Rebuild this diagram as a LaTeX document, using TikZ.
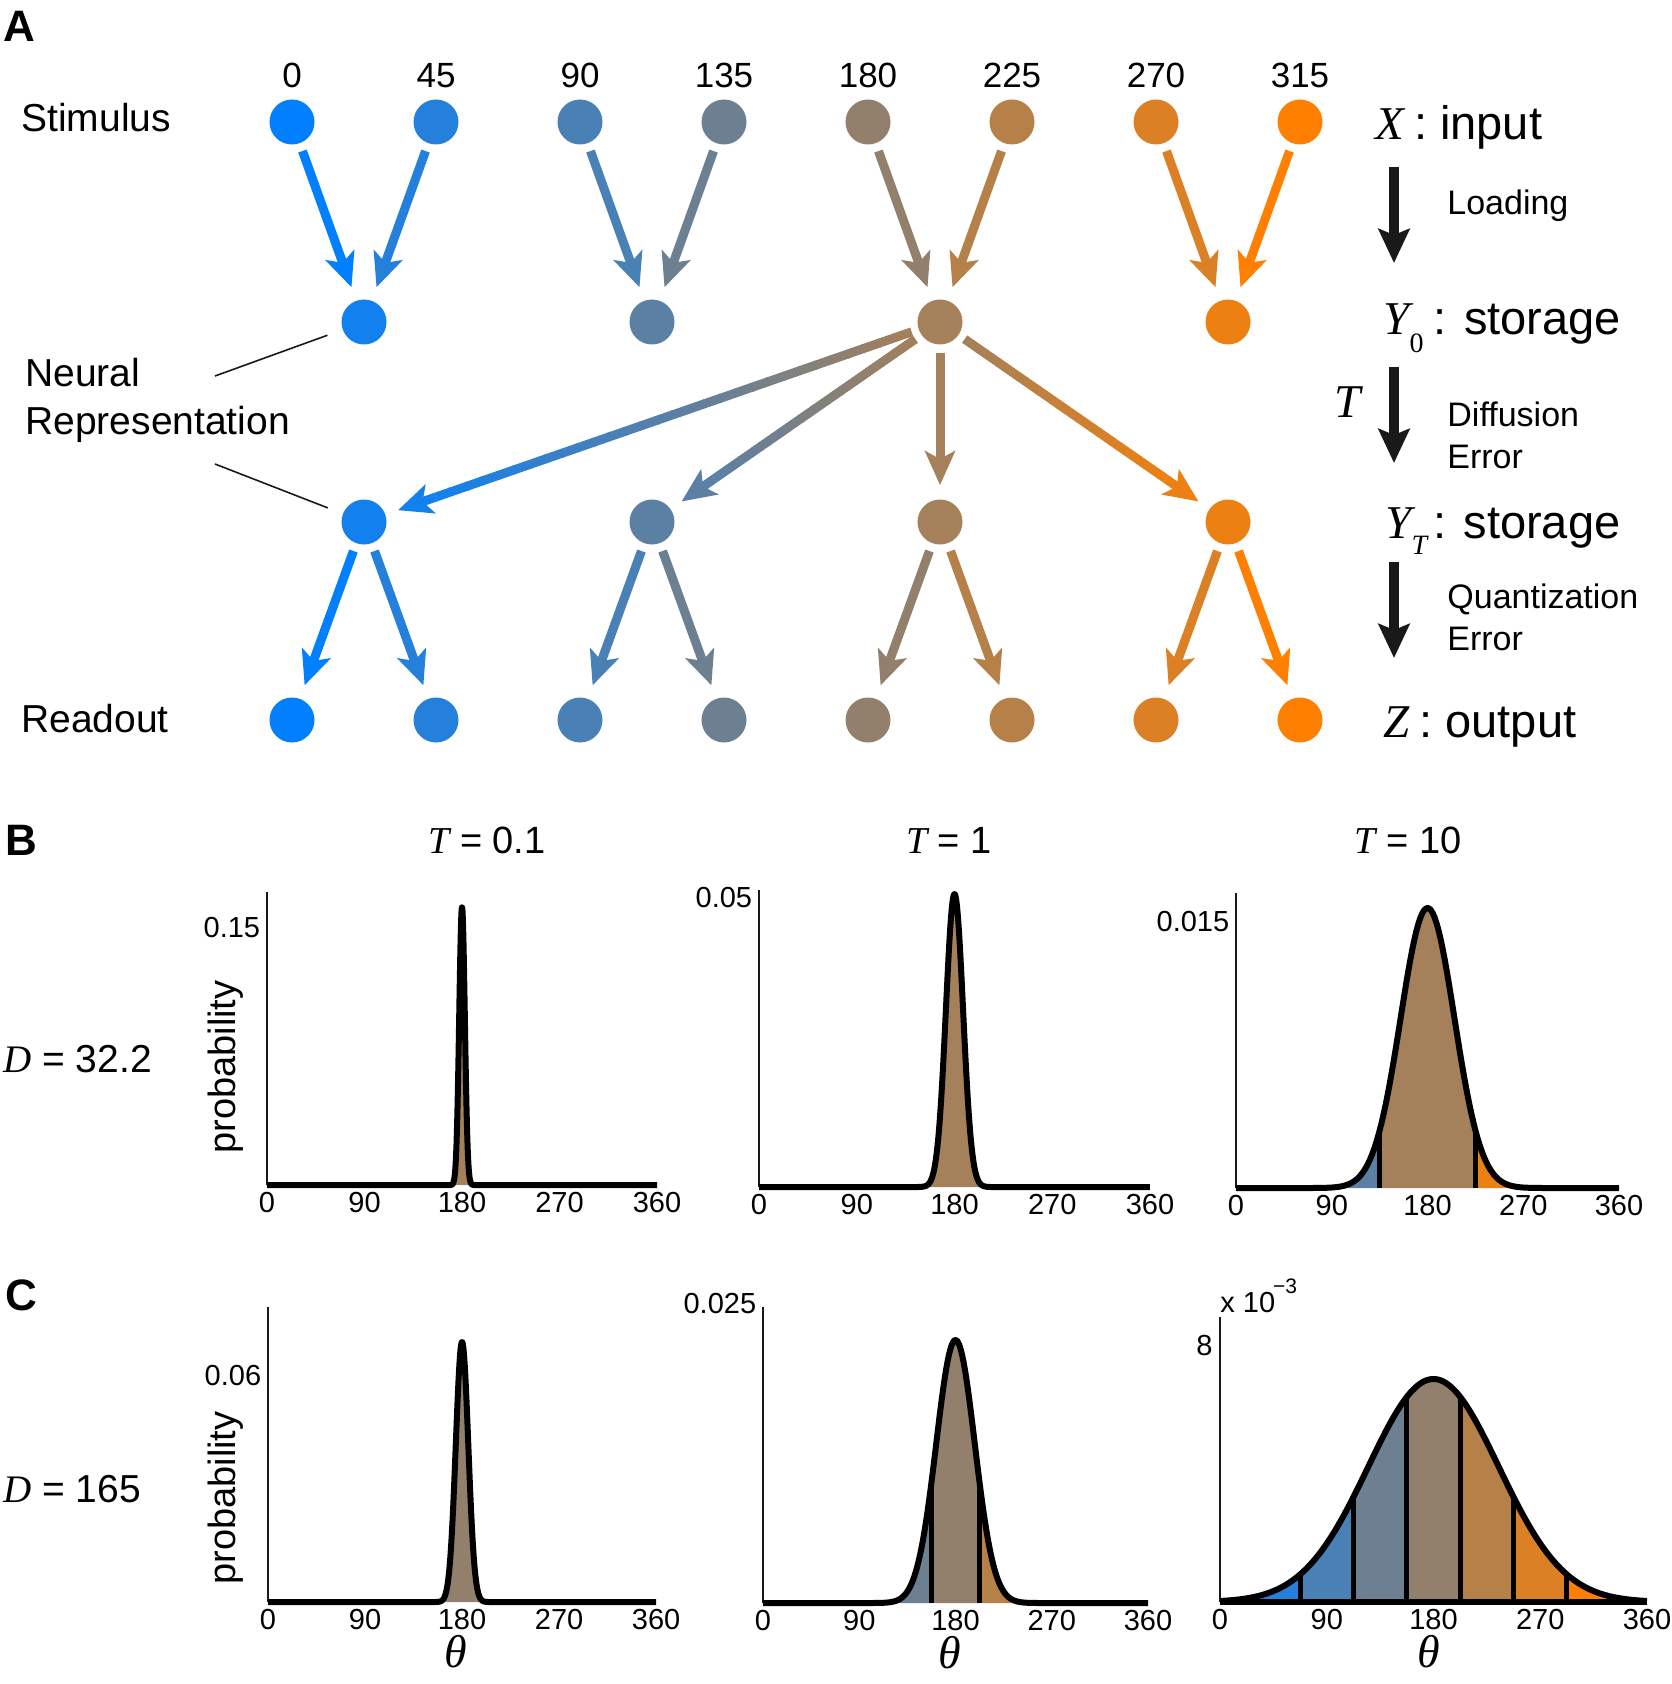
\documentclass[tikz,border=0pt]{standalone}
\usepackage{fontspec}
\setmainfont{Liberation Sans}
\newfontfamily\tms{Liberation Serif}
\usetikzlibrary{arrows.meta,calc}

% stimulus / readout hues, 0 ... 315
\definecolor{hue0}{RGB}{0,128,255}
\definecolor{hue1}{RGB}{36,128,219}
\definecolor{hue2}{RGB}{73,128,182}
\definecolor{hue3}{RGB}{109,128,146}
\definecolor{hue4}{RGB}{146,128,109}
\definecolor{hue5}{RGB}{182,128,73}
\definecolor{hue6}{RGB}{219,128,36}
\definecolor{hue7}{RGB}{255,128,0}
% storage hues
\definecolor{mix0}{RGB}{18,128,237}
\definecolor{mix1}{RGB}{91,128,164}
\definecolor{mix2}{RGB}{164,128,91}
\definecolor{mix3}{RGB}{237,128,18}
\definecolor{ink}{RGB}{25,25,25}

% arrow whose colour runs from #3 to #4
\newcommand\gradarrow[4]{%
  \coordinate (ga-s) at ($(#1)!15pt!(#2)$);
  \coordinate (ga-e) at ($(#2)!18pt!(#1)$);
  \coordinate (ga-h) at ($(ga-e)!20pt!(ga-s)$);
  \foreach \i in {0,...,29}{%
    \pgfmathsetmacro\ga{\i/30}%
    \pgfmathsetmacro\gb{min(1,(\i+1.1)/30)}%
    \pgfmathsetmacro\gm{100*(\i+0.5)/30}%
    \draw[line width=4.5pt,#4!\gm!#3] ($(ga-s)!\ga!(ga-h)$) -- ($(ga-s)!\gb!(ga-h)$);
  }%
  \draw[flow=#4,shorten <=0pt,shorten >=0pt] (ga-h) -- (ga-e);
}

\begin{document}
\begin{tikzpicture}[x=0.5pt,y=0.5pt,yscale=-1,
  declare function={gs(\t,\s)=exp(-0.5*((\t-180)/\s)^2);},
  dot/.style={circle,fill=#1,minimum size=22.5pt,inner sep=0pt},
  flow/.style={line width=4.5pt,color=#1,-{Stealth[length=17pt,width=15pt,inset=4pt]},shorten <=4pt,shorten >=7pt},
  bigarr/.style={line width=5pt,ink,-{Stealth[length=17pt,width=15.5pt,inset=3pt]}},
  lead/.style={line width=0.8pt,ink},
  panlab/.style={font=\fontsize{22}{26}\selectfont\bfseries,anchor=base west,inner sep=0pt},
  rowlab/.style={font=\fontsize{19.5}{23}\selectfont,anchor=base west,inner sep=0pt},
  anglab/.style={font=\fontsize{17.5}{20}\selectfont,anchor=base,inner sep=0pt},
  biglab/.style={font=\fontsize{23.5}{28}\selectfont,anchor=base west,inner sep=0pt},
  midlab/.style={font=\fontsize{17}{20}\selectfont,anchor=base west,inner sep=0pt},
  titlab/.style={font=\fontsize{19}{22}\selectfont,anchor=base,inner sep=0pt},
  problab/.style={font=\fontsize{19}{22}\selectfont,rotate=90,inner sep=0pt},
  tick/.style={font=\fontsize{14.5}{16}\selectfont,anchor=base,inner sep=0pt},
  yval/.style={font=\fontsize{14.5}{16}\selectfont,anchor=base east,inner sep=0pt},
  thlab/.style={font=\tms\itshape\fontsize{23}{25}\selectfont,anchor=base,inner sep=0pt},
  yax/.style={line width=1pt,ink},
  curve/.style={line width=3pt,black,line join=round},
  bound/.style={line width=2.5pt,black}]
\useasboundingbox (0,0) rectangle (1671,1684);

%%%%%%%%%%%%%%%% A %%%%%%%%%%%%%%%%
\node[panlab] (panA) at (3,42) {A};

% rows of units
\foreach \k/\ang in {0/0,1/45,2/90,3/135,4/180,5/225,6/270,7/315}{
  \node[dot=hue\k] (s\k) at ({292+144*\k},122) {};
  \node[dot=hue\k] (r\k) at ({292+144*\k},720) {};
  \node[anglab] (ang\k) at ({292+144*\k},88) {\ang};
}
\foreach \j in {0,...,3}{
  \node[dot=mix\j] (m\j) at ({364+288*\j},322) {};
  \node[dot=mix\j] (t\j) at ({364+288*\j},522) {};
}

% loading and readout arrows
\foreach \k in {0,...,7}{
  \pgfmathtruncatemacro\j{\k/2}
  \draw[flow=hue\k] (s\k) -- (m\j);
  \draw[flow=hue\k] (t\j) -- (r\k);
}

% diffusion from the 180 unit
\gradarrow{m2}{t0}{mix2}{mix0}
\gradarrow{m2}{t1}{mix2}{mix1}
\draw[flow=mix2] (m2) -- (t2);
\gradarrow{m2}{t3}{mix2}{mix3}

% left labels
\node[rowlab] (stim) at (21,132) {Stimulus};
\node[rowlab] (neur1) at (25,387) {Neural};
\node[rowlab] (neur2) at (25,435) {Representation};
\node[rowlab] (read) at (21,732) {Readout};
\coordinate (nl1) at (215,376);
\coordinate (nl2) at (215,464);
\draw[lead,shorten >=8pt] (nl1) -- (m0);
\draw[lead,shorten >=8pt] (nl2) -- (t0);

% right labels
\node[biglab] (xin) at (1375,140) {{\tms\itshape X}\hspace{5pt}: input};
\node[biglab] (ystor) at (1383,335) {{\tms\itshape Y}\raisebox{-9pt}{\tms\fontsize{14}{14}\selectfont 0}\hspace{5pt}: storage};
\node[biglab] (ytstor) at (1385,538) {{\tms\itshape Y}\raisebox{-8pt}{\tms\itshape\fontsize{14}{14}\selectfont T}\hspace{3pt}: storage};
\node[biglab] (zout) at (1383,737) {{\tms\itshape Z}\hspace{5pt}: output};
\node[biglab] (tdif) at (1334,418) {\tms\itshape T};
\node[midlab] (load) at (1447,215) {Loading};
\node[midlab] (dif1) at (1447,427) {Diffusion};
\node[midlab] (dif2) at (1447,468) {Error};
\node[midlab] (qua1) at (1447,608) {Quantization};
\node[midlab] (qua2) at (1447,650) {Error};
\coordinate (la0) at (1394,167); \coordinate (la1) at (1394,263);
\coordinate (lb0) at (1394,367); \coordinate (lb1) at (1394,463);
\coordinate (lc0) at (1394,562); \coordinate (lc1) at (1394,658);
\draw[bigarr] (la0) -- (la1);
\draw[bigarr] (lb0) -- (lb1);
\draw[bigarr] (lc0) -- (lc1);

%%%%%%%%%%%%%%%% B and C %%%%%%%%%%%%%%%%
\node[panlab] (panB) at (5,855) {B};
\node[panlab] (panC) at (5,1310) {C};
\node[titlab] (tit1) at (487,853) {{\tms\itshape T} = 0.1};
\node[titlab] (tit2) at (949,853) {{\tms\itshape T} = 1};
\node[titlab] (tit3) at (1408,853) {{\tms\itshape T} = 10};
\node[rowlab,font=\fontsize{19.5}{23}\selectfont] (dB) at (3,1072) {{\tms\itshape D} = 32.2};
\node[rowlab,font=\fontsize{19.5}{23}\selectfont] (dC) at (3,1502) {{\tms\itshape D} = 165};
\node[problab] (probB) at (226,1067) {probability};
\node[problab] (probC) at (226,1498) {probability};

% B, T = 0.1
\begin{scope}[shift={(267,1185)},x=0.5417pt,yscale=-1]
  \fill[mix2] plot[domain=168:192,samples=60] (\x,{278*gs(\x,2.6)}) -- cycle;
  \draw[yax] (0,0) -- (0,293);
  \draw[curve] (0,0) -- plot[domain=168:192,samples=80] (\x,{278*gs(\x,2.6)}) -- (360,0);
  \node[yval] (b1y) at (-6,248) {0.15};
  \foreach \v in {0,90,180,270,360} \node[tick] (b1x\v) at (\v,-27) {\v};
\end{scope}

% B, T = 1
\begin{scope}[shift={(759,1187)},x=0.543pt,yscale=-1]
  \fill[mix2] plot[domain=145:215,samples=80] (\x,{293*gs(\x,7.9)}) -- cycle;
  \draw[yax] (0,0) -- (0,297);
  \draw[curve] (0,0) -- plot[domain=145:215,samples=100] (\x,{293*gs(\x,7.9)}) -- (360,0);
  \node[yval] (b2y) at (-6,280) {0.05};
  \foreach \v in {0,90,180,270,360} \node[tick] (b2x\v) at (\v,-27) {\v};
\end{scope}

% B, T = 10
\begin{scope}[shift={(1236,1188)},x=0.532pt,yscale=-1]
  \fill[mix1] (66,0) -- plot[domain=66:135,samples=50] (\x,{280*gs(\x,25.3)}) -- (135,0) -- cycle;
  \fill[mix2] (135,0) -- plot[domain=135:225,samples=60] (\x,{280*gs(\x,25.3)}) -- (225,0) -- cycle;
  \fill[mix3] (225,0) -- plot[domain=225:294,samples=50] (\x,{280*gs(\x,25.3)}) -- (294,0) -- cycle;
  \draw[bound] (135,0) -- (135,{280*gs(135,25.3)});
  \draw[bound] (225,0) -- (225,{280*gs(225,25.3)});
  \draw[yax] (0,0) -- (0,295);
  \draw[curve] (0,0) -- plot[domain=66:294,samples=120] (\x,{280*gs(\x,25.3)}) -- (360,0);
  \node[yval] (b3y) at (-6,257) {0.015};
  \foreach \v in {0,90,180,270,360} \node[tick] (b3x\v) at (\v,-27) {\v};
\end{scope}

% C, T = 0.1
\begin{scope}[shift={(268,1602)},x=0.539pt,yscale=-1]
  \fill[hue4] plot[domain=155:205,samples=60] (\x,{260*gs(\x,5.8)}) -- cycle;
  \draw[yax] (0,0) -- (0,295);
  \draw[curve] (0,0) -- plot[domain=155:205,samples=100] (\x,{260*gs(\x,5.8)}) -- (360,0);
  \node[yval] (c1y) at (-6,217) {0.06};
  \foreach \v in {0,90,180,270,360} \node[tick] (c1x\v) at (\v,-27) {\v};
  \node[thlab] (c1th) at (174,-65) {θ};
\end{scope}

% C, T = 1
\begin{scope}[shift={(763,1603)},x=0.5347pt,yscale=-1]
  \fill[hue3] (100,0) -- plot[domain=100:157.5,samples=50] (\x,{263*gs(\x,18)}) -- (157.5,0) -- cycle;
  \fill[hue4] (157.5,0) -- plot[domain=157.5:202.5,samples=50] (\x,{263*gs(\x,18)}) -- (202.5,0) -- cycle;
  \fill[hue5] (202.5,0) -- plot[domain=202.5:260,samples=50] (\x,{263*gs(\x,18)}) -- (260,0) -- cycle;
  \draw[bound] (157.5,0) -- (157.5,{263*gs(157.5,18)});
  \draw[bound] (202.5,0) -- (202.5,{263*gs(202.5,18)});
  \draw[yax] (0,0) -- (0,296);
  \draw[curve] (0,0) -- plot[domain=100:260,samples=120] (\x,{263*gs(\x,18)}) -- (360,0);
  \node[yval] (c2y) at (-6,290) {0.025};
  \foreach \v in {0,90,180,270,360} \node[tick] (c2x\v) at (\v,-27) {\v};
  \node[thlab] (c2th) at (175,-65) {θ};
\end{scope}

% C, T = 10
\begin{scope}[shift={(1220,1602)},x=0.593pt,yscale=-1]
  \fill[hue0] (0,0) -- plot[domain=0:22.5,samples=10] (\x,{223*gs(\x,55)}) -- (22.5,0) -- cycle;
  \foreach \k in {1,...,7}{
    \pgfmathsetmacro\a{45*\k-22.5}
    \pgfmathsetmacro\b{45*\k+22.5}
    \fill[hue\k] (\a,0) -- plot[domain=\a:\b,samples=20] (\x,{223*gs(\x,55)}) -- (\b,0) -- cycle;
  }
  \fill[hue0] (337.5,0) -- plot[domain=337.5:360,samples=10] (\x,{223*gs(\x,55)}) -- (360,0) -- cycle;
  \foreach \k in {0,...,7}{
    \pgfmathsetmacro\b{45*\k+22.5}
    \draw[bound] (\b,0) -- (\b,{223*gs(\b,55)});
  }
  \draw[yax] (0,0) -- (0,285);
  \draw[curve] plot[domain=0:360,samples=150] (\x,{223*gs(\x,55)});
  \draw[curve] (0,0) -- (360,0);
  \node[yval] (c3y) at (-6,247) {8};
  \node[tick,anchor=base west] (c3e) at (0,290) {x 10\hspace{-1pt}\raisebox{9.5pt}{\fontsize{10.5}{11}\selectfont −3}};
  \foreach \v in {0,90,180,270,360} \node[tick] (c3x\v) at (\v,-27) {\v};
  \node[thlab] (c3th) at (176,-65) {θ};
\end{scope}

\end{tikzpicture}
\end{document}
